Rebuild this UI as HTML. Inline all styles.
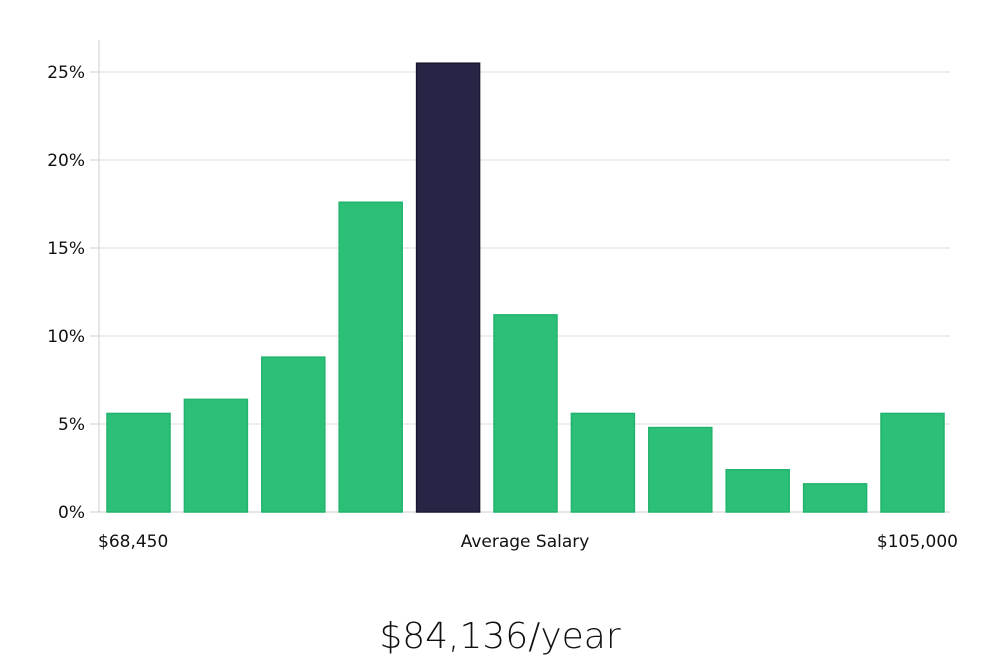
<!DOCTYPE html>
<html><head><meta charset="utf-8"><style>
body{margin:0;background:#fff;width:1000px;height:660px;overflow:hidden;font-family:"DejaVu Sans","Liberation Sans",sans-serif;}
</style></head><body>
<svg id="chart" width="1000" height="660" xmlns="http://www.w3.org/2000/svg"></svg>
<script>
const categories=["b1","b2","b3","b4","b5","b6","b7","b8","b9","b10","b11"];
const values=[5.6,6.4,8.8,17.6,25.5,11.2,5.6,4.8,2.4,1.6,5.6];
const highlight=[false,false,false,false,true,false,false,false,false,false,false];
const yTicks=[0,5,10,15,20,25];
const yTickLabels=["0%","5%","10%","15%","20%","25%"];
const xLabels=["$68,450","Average Salary","$105,000"];
const NS="http://www.w3.org/2000/svg";
const svg=document.getElementById('chart');
const x0=99,x1=950,y0=512,pxPer=17.6;
const y=v=>y0-v*pxPer;
const step=77.4,bw=63,bx0=107;
const xb=i=>bx0+i*step;
function mk(t,a,txt){const e=document.createElementNS(NS,t);for(const k in a)e.setAttribute(k,a[k]);if(txt!=null)e.textContent=txt;svg.appendChild(e);return e;}
yTicks.forEach((t,i)=>{
 if(t>0){const g=mk('line',{x1:x0,x2:x1,y1:y(t),y2:y(t),stroke:'#dddddd','stroke-width':1});
 
 }
 const tk=mk('line',{x1:90,x2:x0,y1:y(t),y2:y(t),stroke:'#cccccc'});
 
 
 const l=mk('text',{x:85,y:y(t)+6,'text-anchor':'end','font-size':17,fill:'#111'},yTickLabels[i]);
 
 
});
const ax=mk('line',{x1:x0,x2:x0,y1:40,y2:y0,stroke:'#cccccc'});


const bx=mk('line',{x1:x0,x2:x1,y1:y0,y2:y0,stroke:'#cccccc'});


values.forEach((v,i)=>{
 const r=mk('rect',{x:xb(i),y:y(v),width:bw,height:v*pxPer,fill:highlight[i]?'#282446':'#2bbf78',stroke:highlight[i]?'#1a1733':'#22b36c','stroke-width':1.5});
 
 
});
const l1=mk('text',{x:98,y:547,'font-size':17,fill:'#111'},xLabels[0]);


const l2=mk('text',{x:525,y:547,'text-anchor':'middle','font-size':17,fill:'#111'},xLabels[1]);


const l3=mk('text',{x:958,y:547,'text-anchor':'end','font-size':17,fill:'#111'},xLabels[2]);


const tt=mk('text',{x:500,y:648,'text-anchor':'middle','font-size':36,fill:'#111','font-family':'"DejaVu Sans","Liberation Sans",sans-serif','font-weight':'300'},"$84,136/year");


</script>
</body></html>
